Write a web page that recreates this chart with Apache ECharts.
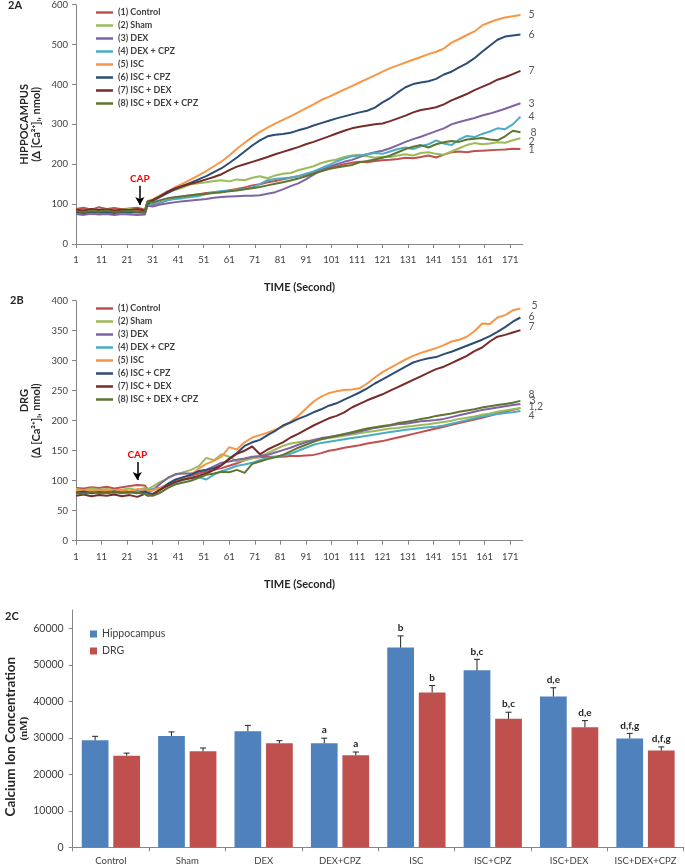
<!DOCTYPE html>
<html>
<head>
<meta charset="utf-8">
<script src="https://cdn.jsdelivr.net/npm/echarts@6/dist/echarts.min.js"></script>
<style>
html, body { margin: 0; padding: 0; background: #fff; }
#chart { width: 685px; height: 865px; }
</style>
</head>
<body>
<div id="chart"></div>
<script>
// sampled time points (seconds)
var secs = [1,4,7,10,13,16,19,22,25,28,29,31,34,37,40,43,46,49,52,55,58,61,64,67,70,73,76,79,82,85,88,91,94,97,100,103,106,109,112,115,118,121,124,127,130,133,136,139,142,145,148,151,154,157,160,163,166,169,172,175];
var timeTicks = [1,11,21,31,41,51,61,71,81,91,101,111,121,131,141,151,161,171];
var groupNames = ['(1) Control','(2) Sham','(3) DEX','(4) DEX + CPZ','(5) ISC','(6) ISC + CPZ','(7) ISC + DEX','(8) ISC + DEX + CPZ'];
var capTimeHip = 26;
var capTimeDrg = 25;

// 2A hippocampus
var hipControl = [88,91,86,92,88,90,87,89,91,86,100,98,104,110,115,120,122,125,128,130,130,135,138,142,147,150,155,158,162,166,170,174,180,186,190,195,200,204,206,205,208,210,211,213,216,215,218,222,217,224,230,232,230,233,234,235,236,237,239,238];
var hipSham = [86,84,88,85,87,84,86,88,85,86,108,112,122,130,136,142,150,152,155,158,160,157,162,160,166,170,165,172,176,178,185,190,195,203,208,212,218,222,224,220,216,219,218,222,225,222,228,230,226,224,232,240,248,253,250,252,255,254,260,265];
var hipDex = [75,73,76,74,75,73,75,74,73,74,96,94,99,102,105,107,109,111,113,116,118,119,120,121,121,122,126,130,137,145,152,162,174,185,193,200,206,211,218,225,230,234,240,248,256,263,269,276,283,290,300,306,311,316,322,327,333,339,346,353];
var hipDexCpz = [80,78,81,79,77,80,78,80,79,78,98,100,105,110,113,115,118,120,125,130,133,134,136,138,142,150,160,163,165,167,170,176,182,190,198,207,214,220,222,225,228,226,232,238,242,238,245,250,260,252,248,262,271,268,276,282,290,288,300,319];
var hipIsc = [80,82,79,81,80,82,80,81,82,80,104,110,122,132,143,152,162,172,183,195,207,222,239,254,268,281,292,302,311,320,330,340,350,361,369,378,387,396,405,414,423,432,441,448,455,462,469,476,482,490,505,514,524,533,548,556,563,568,571,574];
var hipIscCpz = [80,78,81,79,80,78,81,79,80,79,100,108,118,128,138,146,154,162,170,180,190,203,217,232,247,260,270,274,276,279,285,290,297,303,309,315,320,325,330,334,342,355,366,380,393,401,405,408,414,425,432,443,453,466,482,497,512,520,523,525];
var hipIscDex = [86,84,88,85,87,84,86,85,87,84,106,110,120,132,140,146,151,156,162,168,175,185,194,200,206,212,218,225,231,237,243,250,256,263,270,277,284,290,294,297,300,302,308,315,322,330,336,339,343,350,360,368,376,386,394,402,412,418,426,434];
var hipIscDexCpz = [82,80,83,81,84,80,82,83,81,80,106,104,110,115,118,120,122,124,126,128,130,132,134,137,140,143,147,151,155,159,164,170,176,182,188,192,195,198,205,208,212,216,222,230,238,244,248,242,250,255,258,256,262,264,266,262,260,270,284,280];

// 2B DRG
var drgControl = [88,87,89,88,90,87,89,91,93,92,86,85,88,94,99,103,108,112,115,118,121,125,129,134,138,139,140,140,140,141,141,142,143,146,150,152,155,157,159,162,164,166,169,172,175,178,181,184,187,190,193,196,199,202,205,208,212,215,218,221];
var drgSham = [86,84,87,85,86,84,85,87,84,88,86,90,98,104,110,114,118,124,138,134,144,140,132,134,137,140,146,152,158,162,164,166,167,169,171,173,175,177,179,181,183,185,187,188,190,191,193,194,196,198,200,203,205,207,210,212,215,217,219,221];
var drgDex = [82,80,83,81,82,80,83,81,84,80,82,84,95,105,111,112,112,115,118,124,130,132,135,137,140,141,143,147,151,155,160,164,168,171,173,175,177,179,182,185,188,190,192,194,195,197,199,200,201,203,206,209,212,215,218,220,222,224,226,228];
var drgDexCpz = [80,82,79,81,80,79,81,80,82,85,84,86,88,92,97,101,105,106,102,110,116,120,125,127,130,134,138,140,142,145,150,155,160,163,165,167,169,171,173,175,177,179,181,183,185,186,188,189,190,192,195,198,201,204,207,209,211,213,214,216];
var drgIsc = [85,83,84,82,85,83,84,82,86,84,83,84,88,94,99,104,110,120,128,133,140,156,152,164,172,176,180,185,190,198,208,220,232,240,246,249,251,252,254,262,272,281,288,295,302,308,313,317,321,326,332,335,340,349,362,361,372,376,384,387];
var drgIscCpz = [80,82,79,81,80,82,80,81,79,82,80,78,85,95,102,106,110,116,118,121,126,137,146,158,164,168,176,183,192,197,203,208,214,219,225,229,235,241,247,254,262,269,276,283,290,297,301,304,306,311,315,320,325,330,335,341,348,356,365,372];
var drgIscDex = [75,77,74,76,75,77,74,76,73,78,75,76,85,92,98,102,104,108,112,118,126,136,145,150,157,144,152,158,164,172,178,185,192,198,204,208,214,222,228,234,239,244,250,256,262,268,274,280,286,290,296,302,308,316,322,332,340,343,347,351];
var drgIscDexCpz = [80,78,81,79,80,82,79,81,80,78,76,75,80,88,94,97,100,105,110,112,115,114,118,113,128,132,136,139,143,149,155,160,165,169,172,175,178,181,184,187,189,191,193,196,198,200,203,205,208,210,212,215,217,219,222,224,226,228,230,233];

var hipEndTags = ['1','2','3','4','5','6','7','8'];
var drgEndTags = ['1,2','','3','4','5','6','7','8'];

// 2C bars
var barGroups = ['Control','Sham','DEX','DEX+CPZ','ISC','ISC+CPZ','ISC+DEX','ISC+DEX+CPZ'];
var hipMean = [29300,30500,31800,28500,54700,48500,41300,29800];
var hipErr = [1100,1100,1600,1400,3200,3000,2400,1400];
var drgMean = [25100,26300,28500,25200,42400,35200,32900,26500];
var drgErr = [700,900,700,900,1900,1800,1800,1000];
var hipTags = ['','','','a','b','b,c','d,e','d,f,g'];
var drgTags = ['','','','a','b','b,c','d,e','d,f,g'];
var concTicks = [0,10000,20000,30000,40000,50000,60000];

var FONT = 'Lato, "Open Sans", sans-serif';
var lineColors = ['#C0504D','#9BBB59','#8064A2','#4BACC6','#F79646','#2C4D75','#772C2A','#5F7530'];
var hipTagOffset = [[0,1],[0,3],[0,0],[0,0],[0,0],[0,0],[0,0],[2,0]];
var drgTagOffset = [[0,-1],[0,0],[1,-3],[0,5],[3,-3],[0,-1],[0,-3],[0,-6]];
var BAR_W = 0.35, BAR_GAP = 0.18;

var myChart = echarts.init(document.getElementById('chart'));

function pairs (vals) {
  return secs.map(function (t, i) { return [t, vals[i]] })
}

function capMark (t, top, bottom, text) {
  return {
    silent: true,
    symbol: ['none', 'arrow'],
    symbolSize: [7, 8],
    lineStyle: { color: '#000', width: 1.5, type: 'solid' },
    label: { show: true, position: 'start', formatter: text, color: '#FF0000', fontWeight: 'bold', fontSize: 10, fontFamily: FONT, distance: 2 },
    data: [[{ coord: [t, top] }, { coord: [t, bottom] }]]
  }
}

var series = []
var hipSeries = [hipControl, hipSham, hipDex, hipDexCpz, hipIsc, hipIscCpz, hipIscDex, hipIscDexCpz]
var drgSeries = [drgControl, drgSham, drgDex, drgDexCpz, drgIsc, drgIscCpz, drgIscDex, drgIscDexCpz]

function addLines (list, axis, tags, offsets, cap) {
  list.forEach(function (vals, i) {
    var s = {
      name: groupNames[i],
      type: 'line',
      xAxisIndex: axis,
      yAxisIndex: axis,
      data: pairs(vals),
      showSymbol: false,
      animation: false,
      lineStyle: { width: 2, color: lineColors[i] },
      itemStyle: { color: lineColors[i] },
      endLabel: {
        show: tags[i] !== '',
        formatter: tags[i],
        color: '#595959',
        fontSize: 10.5,
        fontFamily: FONT,
        offset: offsets[i]
      }
    }
    if (i === 0) s.markLine = cap
    series.push(s)
  })
}
addLines(hipSeries, 0, hipEndTags, hipTagOffset, capMark(capTimeHip, 146, 98, 'CAP'))
addLines(drgSeries, 1, drgEndTags, drgTagOffset, capMark(capTimeDrg, 131, 101, 'CAP'))

function errorBars (side, errs, tags) {
  return function (params, api) {
    var idx = api.value(0)
    var base = api.coord([idx, api.value(1)])
    var top = api.coord([idx, api.value(1) + errs[params.dataIndex]])
    var band = api.size([1, 0])[0]
    var x = base[0] + side * band * BAR_W * (1 + BAR_GAP) / 2
    return {
      type: 'group',
      children: [
        { type: 'line', shape: { x1: x, y1: base[1], x2: x, y2: top[1] }, style: { stroke: '#222', lineWidth: 1 } },
        { type: 'line', shape: { x1: x - 3, y1: top[1], x2: x + 3, y2: top[1] }, style: { stroke: '#222', lineWidth: 1 } },
        { type: 'text', x: x, y: top[1] - 3, style: { text: tags[params.dataIndex], textAlign: 'center', textVerticalAlign: 'bottom', fontSize: 10, fontWeight: 'bold', fontFamily: FONT, fill: '#222' } }
      ]
    }
  }
}

series.push({
  name: 'Hippocampus', type: 'bar', xAxisIndex: 2, yAxisIndex: 2,
  data: hipMean, barWidth: (BAR_W * 100) + '%', barGap: (BAR_GAP * 100) + '%',
  itemStyle: { color: '#4F81BD' }, animation: false
})
series.push({
  name: 'DRG', type: 'bar', xAxisIndex: 2, yAxisIndex: 2,
  data: drgMean, barWidth: (BAR_W * 100) + '%',
  itemStyle: { color: '#C0504D' }, animation: false
})
series.push({
  type: 'custom', xAxisIndex: 2, yAxisIndex: 2, z: 5, animation: false,
  renderItem: errorBars(-1, hipErr, hipTags),
  data: hipMean.map(function (v, i) { return [i, v] })
})
series.push({
  type: 'custom', xAxisIndex: 2, yAxisIndex: 2, z: 5, animation: false,
  renderItem: errorBars(1, drgErr, drgTags),
  data: drgMean.map(function (v, i) { return [i, v] })
})

var axisGray = '#868686'
var labelGray = '#404040'

function timeAxis (grid) {
  return {
    gridIndex: grid, type: 'value', min: 1, max: 176,
    axisLine: { show: true, lineStyle: { color: axisGray } },
    axisTick: { show: true, customValues: timeTicks, length: 4, lineStyle: { color: axisGray } },
    axisLabel: { customValues: timeTicks, color: labelGray, fontSize: 9.5, fontFamily: FONT, margin: 11 },
    splitLine: { show: false },
    name: 'TIME (Second)', nameLocation: 'middle', nameGap: 38, nameMoveOverlap: false,
    nameTextStyle: { fontWeight: 'bold', fontSize: 11, fontFamily: FONT, color: '#262626' }
  }
}

function valueAxis (grid, max, step, name, rich) {
  return {
    gridIndex: grid, type: 'value', min: 0, max: max, interval: step,
    axisLine: { show: true, lineStyle: { color: axisGray } },
    axisTick: { show: true, length: 4, lineStyle: { color: axisGray } },
    axisLabel: { color: labelGray, fontSize: 9.5, fontFamily: FONT, margin: 8 },
    splitLine: { show: false },
    name: name,
    nameLocation: 'middle', nameRotate: 90, nameGap: 34, nameMoveOverlap: false,
    nameTextStyle: { rich: rich }
  }
}

var nameStyle = { fontWeight: 'bold', fontSize: 11, fontFamily: FONT, color: '#262626', lineHeight: 12 }

const option = {
  backgroundColor: '#fff',
  animation: false,
  title: [
    { text: '2A', left: 8, top: 0, padding: 0, textStyle: { fontSize: 11, fontWeight: 'bold', fontFamily: FONT, color: '#262626' } },
    { text: '2B', left: 10, top: 295, padding: 0, textStyle: { fontSize: 11, fontWeight: 'bold', fontFamily: FONT, color: '#262626' } },
    { text: '2C', left: 5, top: 611, padding: 0, textStyle: { fontSize: 11, fontWeight: 'bold', fontFamily: FONT, color: '#262626' } }
  ],
  legend: [
    {
      data: groupNames, left: 96, top: 8, orient: 'vertical', icon: 'rect',
      itemWidth: 17, itemHeight: 2.5, itemGap: 4, padding: 0, selectedMode: false,
      textStyle: { fontSize: 9, fontWeight: 'bold', fontFamily: FONT, color: labelGray }
    },
    {
      data: groupNames, left: 96, top: 304, orient: 'vertical', icon: 'rect',
      itemWidth: 17, itemHeight: 2.5, itemGap: 4, padding: 0, selectedMode: false,
      textStyle: { fontSize: 9, fontWeight: 'bold', fontFamily: FONT, color: labelGray }
    },
    {
      data: ['Hippocampus', 'DRG'], left: 90, top: 628.5, orient: 'vertical', icon: 'rect',
      itemWidth: 7, itemHeight: 7, itemGap: 6, padding: 0, selectedMode: false,
      textStyle: { fontSize: 10.5, fontFamily: FONT, color: labelGray }
    }
  ],
  grid: [
    { left: 76, top: 4.7, width: 447, height: 239.3, outerBoundsMode: 'none' },
    { left: 76, top: 300.7, width: 447, height: 240, outerBoundsMode: 'none' },
    { left: 72.7, top: 610, width: 611, height: 237.3, outerBoundsMode: 'none' }
  ],
  xAxis: [
    timeAxis(0),
    timeAxis(1),
    {
      gridIndex: 2, type: 'category', data: barGroups,
      axisLine: { show: true, lineStyle: { color: axisGray } },
      axisTick: { show: true, length: 4, lineStyle: { color: axisGray } },
      axisLabel: { interval: 0, color: labelGray, fontSize: 9.5, fontFamily: FONT, margin: 9 }
    }
  ],
  yAxis: [
    valueAxis(0, 600, 100, '{a|HIPPOCAMPUS}\n{a|(Δ [Ca²⁺]ᵢ, nmol)}', { a: nameStyle }),
    valueAxis(1, 400, 50, '{d|DRG}\n{a|(Δ [Ca²⁺]ᵢ, nmol)}', {
      a: nameStyle,
      d: Object.assign({}, nameStyle, { padding: [0, 0, 0, 40] })
    }),
    {
      gridIndex: 2, type: 'value', min: 0, max: 65000,
      axisLine: { show: true, lineStyle: { color: axisGray } },
      axisTick: { show: true, length: 4, customValues: concTicks, lineStyle: { color: axisGray } },
      axisLabel: { customValues: concTicks, color: labelGray, fontSize: 10.5, fontFamily: FONT, margin: 9, formatter: function (v) { return String(v) } },
      splitLine: { show: false },
      name: '{a|Calcium Ion Concentration}\n{b|(nM)}',
      nameLocation: 'middle', nameRotate: 90, nameGap: 42, nameMoveOverlap: false,
      nameTextStyle: {
        rich: {
          a: { fontWeight: 'bold', fontSize: 13.5, fontFamily: FONT, color: '#262626', lineHeight: 14, padding: [0, 16, 0, 0] },
          b: { fontWeight: 'bold', fontSize: 11, fontFamily: '"Liberation Serif", serif', color: '#262626', lineHeight: 13 }
        }
      }
    }
  ],
  series: series
}

myChart.setOption(option)
</script>
</body>
</html>
